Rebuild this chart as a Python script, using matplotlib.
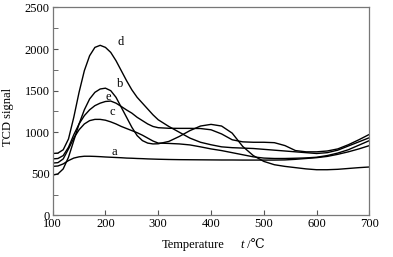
import matplotlib
matplotlib.use("Agg")
import matplotlib.pyplot as plt
from matplotlib.ticker import MultipleLocator

plt.rcParams['font.family'] = ['Liberation Serif', 'DejaVu Serif']

temps = [100, 110, 120, 130, 140, 150, 160, 170, 180, 190, 200, 210, 220, 230, 240,
         250, 260, 270, 280, 290, 300, 320, 340, 360, 380, 400, 420, 440, 460, 480,
         500, 520, 540, 560, 580, 600, 620, 640, 660, 680, 700]

curve_a = [590, 595, 620, 660, 690, 705, 712, 712, 710, 707, 703, 700, 697, 694, 690,
           688, 685, 683, 680, 678, 676, 673, 671, 670, 669, 668, 667, 667, 666, 666,
           666, 666, 668, 675, 685, 695, 710, 735, 765, 800, 840]
curve_b = [485, 500, 560, 700, 900, 1100, 1270, 1400, 1480, 1520, 1530, 1500, 1420, 1300, 1180,
           1060, 960, 900, 870, 860, 862, 890, 950, 1020, 1075, 1095, 1075, 990, 830, 720,
           650, 610, 590, 575, 560, 550, 550, 555, 565, 575, 583]
curve_c = [630, 635, 680, 800, 930, 1030, 1100, 1140, 1155, 1155, 1145, 1125, 1100, 1070, 1045,
           1020, 995, 965, 930, 895, 870, 866, 860, 848, 825, 800, 780, 755, 730, 705,
           690, 685, 685, 688, 692, 700, 720, 750, 790, 845, 900]
curve_d = [745, 750, 790, 920, 1180, 1480, 1740, 1920, 2020, 2045, 2020, 1960, 1860, 1740, 1620,
           1510, 1420, 1350, 1280, 1210, 1150, 1070, 1000, 930, 880, 850, 825, 815, 810, 805,
           795, 785, 775, 765, 755, 745, 755, 785, 835, 885, 935]
curve_e = [680, 685, 720, 820, 970, 1100, 1200, 1270, 1320, 1350, 1370, 1375, 1350, 1310, 1268,
           1230, 1180, 1140, 1100, 1070, 1055, 1048, 1047, 1047, 1045, 1030, 980, 910, 885, 880,
           880, 875, 840, 780, 765, 765, 775, 800, 850, 910, 975]

labels = ['a', 'b', 'c', 'd', 'e']
label_temps = [217, 228, 213, 229, 205]
label_vals = [765, 1578, 1248, 2081, 1429]

fig = plt.figure(figsize=(3.93, 2.57), dpi=100)
ax = fig.add_axes([0.134, 0.1615, 0.806, 0.8095])

for ys in [curve_a, curve_b, curve_c, curve_d, curve_e]:
    ax.plot(temps, ys, color='black', lw=1.0)

for lab, tx, ty in zip(labels, label_temps, label_vals):
    ax.text(tx, ty, lab, fontsize=9, ha='center', va='center')

ax.set_xlim(100, 700)
ax.set_ylim(0, 2500)
ax.xaxis.set_major_locator(MultipleLocator(100))
ax.yaxis.set_major_locator(MultipleLocator(500))
ax.yaxis.set_minor_locator(MultipleLocator(250))
ax.tick_params(axis='both', which='both', direction='in', labelsize=9, color='#555555',
               top=False, right=False)
ax.tick_params(axis='both', which='major', length=3.5, pad=2)
ax.tick_params(axis='both', which='minor', length=3.5)
for s in ax.spines.values():
    s.set_color('#777777')
    s.set_linewidth(0.9)

fig.text(8 / 393, 1 - 117 / 257, 'TCD signal', rotation=90, fontsize=9,
         ha='center', va='center')
fig.text(162 / 393, 1 - 245 / 257, 'Temperature', fontsize=9, ha='left', va='center')
fig.text(240 / 393, 1 - 245 / 257, 't', fontsize=9, style='italic', ha='left', va='center')
fig.text(244 / 393, 1 - 245 / 257, ' /℃', fontsize=9, ha='left', va='center')

fig.savefig('out.png', dpi=100)
